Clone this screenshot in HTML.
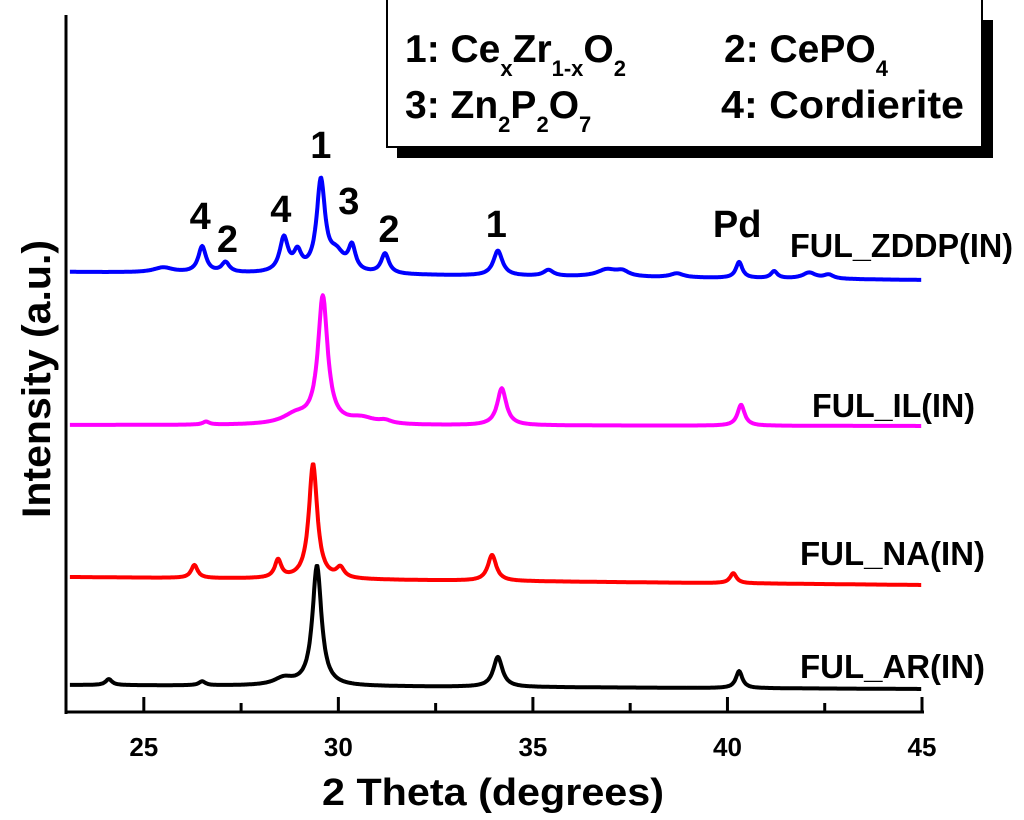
<!DOCTYPE html>
<html><head><meta charset="utf-8"><style>
html,body{margin:0;padding:0;background:#fff;width:1024px;height:820px;overflow:hidden}
svg text{font-family:"Liberation Sans",sans-serif;font-weight:bold}
</style></head><body>
<svg id="chart" width="1024" height="820" viewBox="0 0 1024 820" xmlns="http://www.w3.org/2000/svg">
<g id="series"></g>
<g id="axes"></g>
<g id="legend">
<rect x="397" y="20" width="596" height="138" fill="#000"/>
<rect x="387" y="-5" width="595" height="152" fill="#fff" stroke="#000" stroke-width="2"/>
<text x="405" y="62" font-size="39">1: Ce<tspan font-size="22" dy="14">x</tspan><tspan dy="-14">Zr</tspan><tspan font-size="22" dy="14">1-x</tspan><tspan dy="-14">O</tspan><tspan font-size="22" dy="14">2</tspan></text>
<text x="405" y="118" font-size="39">3: Zn<tspan font-size="22" dy="14">2</tspan><tspan dy="-14">P</tspan><tspan font-size="22" dy="14">2</tspan><tspan dy="-14">O</tspan><tspan font-size="22" dy="14">7</tspan></text>
<text x="724" y="62" font-size="39">2: CePO<tspan font-size="22" dy="14">4</tspan></text>
<text x="721" y="118" font-size="39" textLength="243" lengthAdjust="spacingAndGlyphs">4: Cordierite</text>
</g>
<g id="labels">
<text x="322" y="805" font-size="38" textLength="342" lengthAdjust="spacingAndGlyphs">2 Theta (degrees)</text>
<text transform="translate(50,518) rotate(-90)" font-size="40" textLength="278" lengthAdjust="spacingAndGlyphs">Intensity (a.u.)</text>
<text x="790" y="257" font-size="33" textLength="223" lengthAdjust="spacingAndGlyphs">FUL_ZDDP(IN)</text>
<text x="812" y="417" font-size="33" textLength="163" lengthAdjust="spacingAndGlyphs">FUL_IL(IN)</text>
<text x="800" y="565" font-size="33" textLength="185" lengthAdjust="spacingAndGlyphs">FUL_NA(IN)</text>
<text x="800" y="678" font-size="33" textLength="185" lengthAdjust="spacingAndGlyphs">FUL_AR(IN)</text>
</g>
</svg>
<script>
const xTicks=[25,30,35,40,45];
const xMinor=[27.5,32.5,37.5,42.5];
const seriesNames=["FUL_ZDDP(IN)","FUL_IL(IN)","FUL_NA(IN)","FUL_AR(IN)"];
const seriesColors=["#0000ff","#ff00ff","#ff0000","#000000"];
const baseStart=[440,287,135,27];
const baseEnd=[432,286,127,23];
const peakPos=[
 [25.5,26.5,27.1,28.6,28.95,29.55,29.95,30.35,31.2,34.1,35.4,36.9,37.3,38.7,40.3,41.2,42.1,42.6],
 [26.6,28.9,29.6,30.6,31.2,34.2,40.35],
 [26.3,28.45,29.35,30.05,33.95,40.15],
 [24.1,26.5,28.6,29.45,34.1,40.3]];
const peakHeight=[
 [5,26,10,34,18,90,18,24,20,25,6,7,5,4,16,7,6,4],
 [3,9,127,6,3,37,21],
 [13,18,115,10,26,10],
 [6,4,7,120,30,17]];
const peakWidth=[
 [0.3,0.12,0.12,0.13,0.12,0.13,0.25,0.11,0.12,0.14,0.15,0.3,0.2,0.2,0.1,0.1,0.2,0.15],
 [0.1,0.4,0.15,0.4,0.2,0.14,0.11],
 [0.1,0.1,0.13,0.12,0.13,0.1],
 [0.1,0.1,0.3,0.14,0.14,0.1]];
const peakLabels=["4","2","4","1","3","2","1","Pd"];
const peakLabelX=[26.45,27.15,28.52,29.55,30.27,31.3,34.06,40.25];
const peakLabelY=[483,460,490,554,498,470,475,475];

const X0=23,X1=45,PX0=66,PX1=922,PY0=712;
const sx=v=>PX0+(v-X0)/(X1-X0)*(PX1-PX0);
const sy=v=>PY0-v;
const NS="http://www.w3.org/2000/svg";
const mk=(t,a,p)=>{const e=document.createElementNS(NS,t);for(const k in a)e.setAttribute(k,a[k]);p.appendChild(e);return e;};
const sg=document.getElementById('series');
for(let s=0;s<4;s++){
  let d="";
  for(let x=X0+0.1;x<=X1;x+=0.02){
    let y=baseStart[s]+(baseEnd[s]-baseStart[s])*(x-X0)/(X1-X0);
    for(let i=0;i<peakPos[s].length;i++){const u=(x-peakPos[s][i])/peakWidth[s][i];y+=peakHeight[s][i]/(1+u*u);}
    d+=(d?"L":"M")+sx(x).toFixed(1)+","+sy(y).toFixed(1);
  }
  const p=mk('path',{d:d,fill:'none',stroke:seriesColors[s],'stroke-width':4,'stroke-linejoin':'round'},sg);
  
  
}
const lg=document.getElementById('labels');
for(let i=0;i<peakLabels.length;i++){
  const t=mk('text',{x:sx(peakLabelX[i]),y:sy(peakLabelY[i]),'font-size':38,'text-anchor':'middle'},lg);
  t.textContent=peakLabels[i];
  
  
}
const ax=document.getElementById('axes');
const yl=mk('line',{x1:PX0,y1:15,x2:PX0,y2:PY0+2,stroke:'#000','stroke-width':3},ax);


const xl=mk('line',{x1:PX0-1,y1:PY0,x2:PX1+2,y2:PY0,stroke:'#000','stroke-width':3},ax);


xTicks.forEach(v=>{
  const l=mk('line',{x1:sx(v),y1:PY0,x2:sx(v),y2:PY0-15,stroke:'#000','stroke-width':3},ax);
  
  
  const t=mk('text',{x:sx(v),y:756,'font-size':26,'text-anchor':'middle'},ax);
  t.textContent=v;
  
  
});
xMinor.forEach(v=>{
  const l=mk('line',{x1:sx(v),y1:PY0,x2:sx(v),y2:PY0-9,stroke:'#000','stroke-width':3},ax);
  
  
});
</script>
</body></html>
